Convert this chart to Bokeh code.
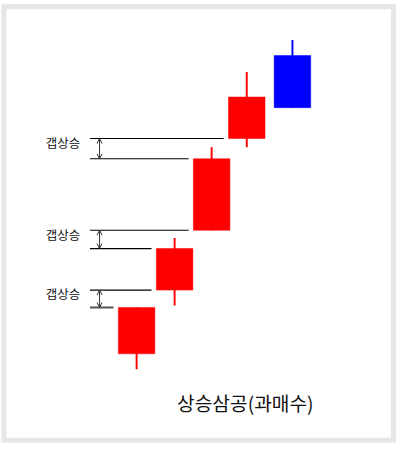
from bokeh.plotting import figure
from bokeh.models import ColumnDataSource, Range1d, Arrow, OpenHead
from bokeh.embed import file_html
from bokeh.resources import INLINE
from bokeh.core.properties import value

# ---- data ----
day = [141.5, 181, 219.5, 256, 303.5]
open_ = [94, 160, 222, 317, 403]
close = [142, 203, 296, 360, 349]
high = [142, 214, 308, 386, 419]
low = [78, 144, 222, 308, 349]
gap_label = "갭상승"
title_text = "상승삼공(과매수)"

# ---- layout / style ----
W, H = 404, 444            # figure size in screen px
REF_W, REF_H = 420, 460    # design units
S = W / REF_W
BODY_W = 38
UP, DOWN = "#ff0000", "#0000ff"
FONT = "Noto Sans CJK KR"

colors = [UP if c >= o else DOWN for o, c in zip(open_, close)]
src = ColumnDataSource(dict(
    x=day, top=[max(o, c) for o, c in zip(open_, close)],
    bottom=[min(o, c) for o, c in zip(open_, close)],
    high=high, low=low, color=colors))

p = figure(width=W, height=H, x_range=Range1d(0, REF_W), y_range=Range1d(0, REF_H),
           output_backend="svg", toolbar_location=None,
           x_axis_location=None, y_axis_location=None, min_border=0)
p.grid.visible = False
p.outline_line_color = None
p.background_fill_color = "#ffffff"
p.border_fill_color = "#ffffff"

# light grey frame
p.rect(x=[206], y=[REF_H - 231], width=[405], height=[449], fill_color=None,
       line_color="#e6e6e6", line_width=5 * S, line_join="miter")

p.segment(x0="x", y0="low", x1="x", y1="high", line_color="color", line_width=2 * S, source=src)
p.vbar(x="x", width=BODY_W, top="top", bottom="bottom", fill_color="color",
       line_color="color", line_width=0.5, source=src)

# gaps between consecutive rising bodies
LINE_X0 = 93
PAD = 5
ARROW_X = 103
gx_top, gy_top, gx_bot, gy_bot = [], [], [], []
for i in range(len(day) - 1):
    lo_prev = max(open_[i], close[i])
    hi_next = min(open_[i + 1], close[i + 1])
    if hi_next > lo_prev and close[i + 1] > open_[i + 1]:
        gx_top.append(day[i + 1] - BODY_W / 2 - PAD)
        gy_top.append(hi_next)
        gx_bot.append(day[i] - BODY_W / 2 - PAD)
        gy_bot.append(lo_prev)

n = len(gy_top)
bot_col = ["#555555" if k == 0 else "#000000" for k in range(n)]
bot_w = [2 * S if k == 0 else 1.2 * S for k in range(n)]
gsrc = ColumnDataSource(dict(x0=[LINE_X0] * n, xt=gx_top, yt=gy_top,
                             xb=gx_bot, yb=gy_bot, ax=[ARROW_X] * n,
                             bc=bot_col, bw=bot_w,
                             lx=[65] * n, ly=[y - 4 for y in gy_top],
                             txt=[gap_label] * n))
p.segment(x0="x0", y0="yt", x1="xt", y1="yt", line_color="#000000", line_width=1.2 * S, source=gsrc)
p.segment(x0="x0", y0="yb", x1="xb", y1="yb", line_color="bc", line_width="bw", source=gsrc)
p.add_layout(Arrow(start=OpenHead(size=5, line_color="#333333", line_width=1),
                   end=OpenHead(size=5, line_color="#333333", line_width=1),
                   x_start="ax", y_start="yt", x_end="ax", y_end="yb",
                   line_color="#333333", line_width=1, source=gsrc))
p.text(x="lx", y="ly", text="txt", source=gsrc, text_font=value(FONT),
       text_font_size="%.1fpx" % (13 * S), text_color="#111111", text_align="center",
       text_baseline="middle")

p.text(x=[254.5], y=[43], text=[title_text], text_font=value(FONT),
       text_font_size="%.1fpx" % (20 * S), text_color="#111111", text_align="center",
       text_baseline="middle")

open("out.html", "w").write(file_html(p, INLINE))
